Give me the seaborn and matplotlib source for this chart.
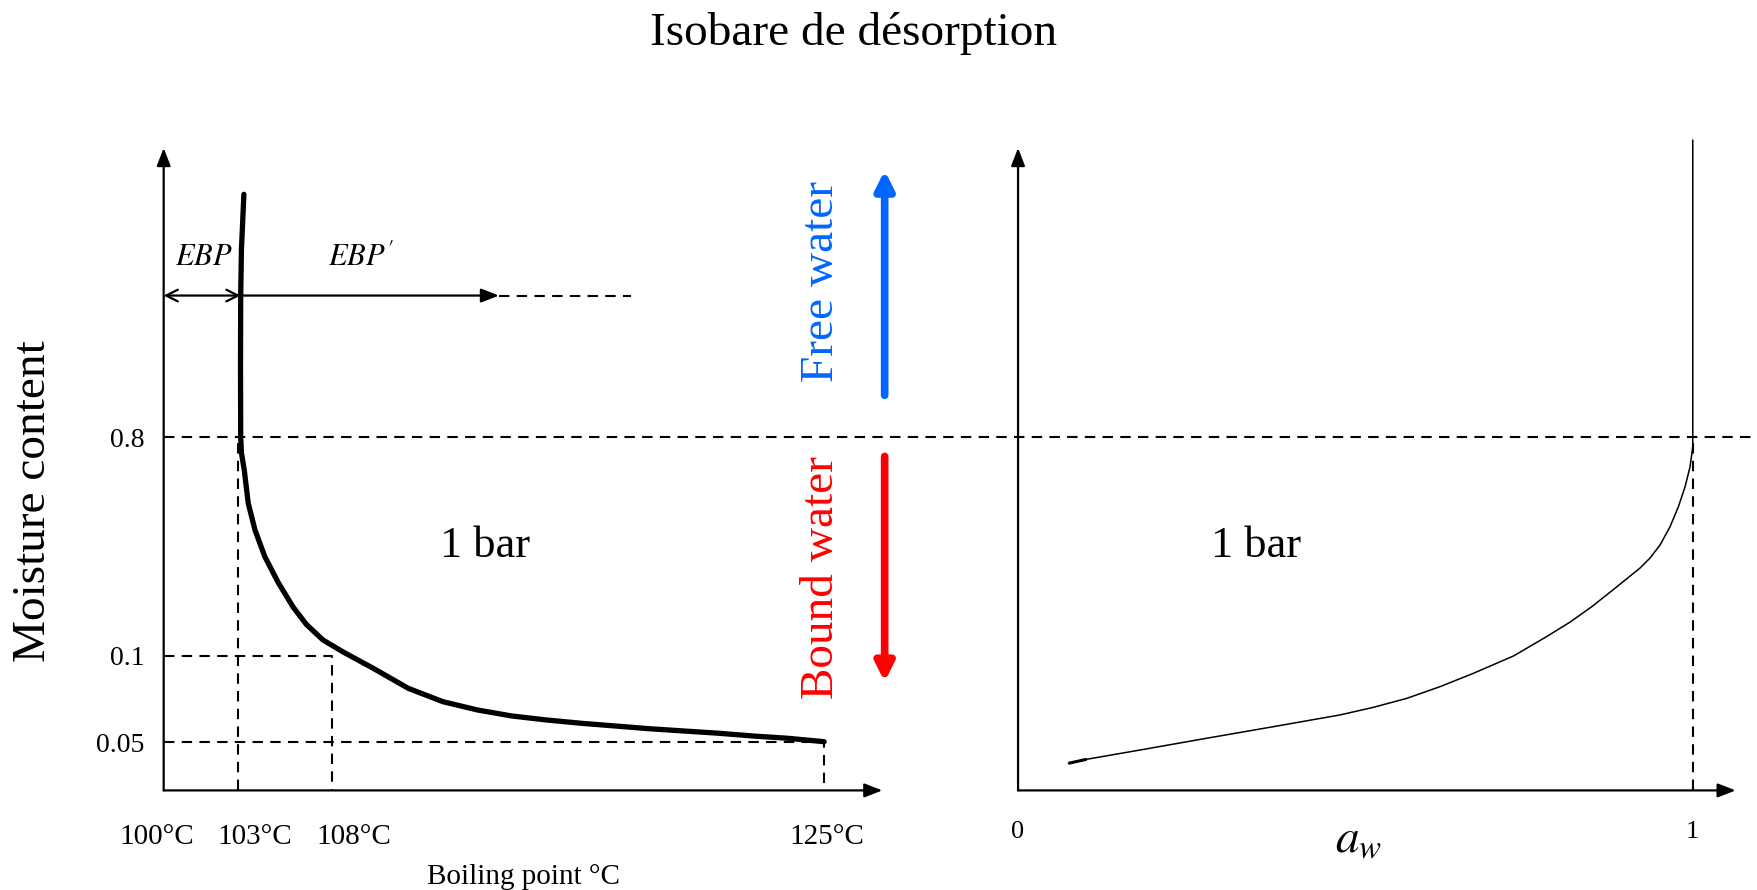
import numpy as np
import pandas as pd
import matplotlib.pyplot as plt
import seaborn as sns
from matplotlib import transforms

# schematic axis knots (value -> position along the drawn axis, px)
temp_knots = [100, 103, 108, 125]
temp_pos = [0, 74, 168.2, 660.4]
moist_knots = [0, 0.05, 0.1, 0.8, 1.0]
moist_pos = [0, 48.2, 134.5, 353.1, 642.4]

# left panel: boiling point vs moisture content
boil_temp = [103.33, 103.2, 103.16, 103.15, 103.16, 103.2, 103.35, 103.56, 103.92,
             104.44, 105.15, 105.94, 106.65, 107.53, 108.39, 109.43, 110.64, 111.83,
             113.02, 114.21, 115.40, 116.59, 117.78, 118.97, 120.16, 121.35, 122.54,
             123.73, 125.0]
boil_moist = [0.968, 0.93, 0.898, 0.85, 0.8, 0.75, 0.695, 0.589, 0.503,
              0.418, 0.335, 0.2566, 0.2005, 0.1509, 0.1125, 0.0928, 0.0812, 0.0735,
              0.0687, 0.0652, 0.0629, 0.0610, 0.0594, 0.0578, 0.0565, 0.0552, 0.0536,
              0.0523, 0.0503]
temp_ticks = [100, 103, 108, 125]
temp_labels = ['100°C', '103°C', '108°C', '125°C']
moist_ticks = [0.05, 0.1, 0.8]
moist_labels = ['0.05', '0.1', '0.8']

# right panel: water activity vs moisture content
aw = [0.0746, 0.1018, 0.1808, 0.2797, 0.3784, 0.4772, 0.5266, 0.5761, 0.6255,
      0.6748, 0.7345, 0.7811, 0.8177, 0.8507, 0.8841, 0.9219, 0.9367, 0.9515,
      0.9663, 0.9787, 0.9886, 0.9960, 1.0, 1.0, 1.0]
aw_moist = [0.0281, 0.0323, 0.0419, 0.0523, 0.0590, 0.0658, 0.0702, 0.0754, 0.0822,
            0.0899, 0.1000, 0.1589, 0.2076, 0.2582, 0.3155, 0.3815, 0.4135, 0.4551,
            0.5137, 0.5777, 0.6418, 0.7059, 0.7699, 0.8, 1.0055]


def make_scale(knots, pos):
    knots = np.asarray(knots, float)
    pos = np.asarray(pos, float)
    s0 = (pos[1] - pos[0]) / (knots[1] - knots[0])
    s1 = (pos[-1] - pos[-2]) / (knots[-1] - knots[-2])

    def fwd(v):
        v = np.asarray(v, float)
        out = np.interp(v, knots, pos)
        out = np.where(v < knots[0], pos[0] + (v - knots[0]) * s0, out)
        out = np.where(v > knots[-1], pos[-1] + (v - knots[-1]) * s1, out)
        return out

    def inv(p):
        p = np.asarray(p, float)
        out = np.interp(p, pos, knots)
        out = np.where(p < pos[0], knots[0] + (p - pos[0]) / s0, out)
        out = np.where(p > pos[-1], knots[-1] + (p - pos[-1]) / s1, out)
        return out

    return fwd, inv


sns.set_theme(style='white')
plt.rcParams['font.family'] = ['Liberation Serif', 'DejaVu Serif']
plt.rcParams['mathtext.fontset'] = 'stix'
plt.rcParams['text.color'] = 'black'
plt.rcParams['axes.labelcolor'] = 'black'
plt.rcParams['xtick.color'] = 'black'
plt.rcParams['ytick.color'] = 'black'

fig = plt.figure(figsize=(17.58, 8.90), dpi=100)
ax1 = fig.add_axes([0.0931, 0.1119, 0.4088, 0.7218])
ax2 = fig.add_axes([0.5791, 0.1119, 0.4082, 0.7218])

ax1.set_xscale('function', functions=make_scale(temp_knots, temp_pos))
for a in (ax1, ax2):
    a.set_yscale('function', functions=make_scale(moist_knots, moist_pos))
    a.set_ylim(0, 1.0)
    for s in a.spines.values():
        s.set_visible(False)
    a.set_facecolor('none')
    # axes with arrowheads
    arrow = dict(arrowstyle='-|>,head_length=0.9,head_width=0.35', color='black',
                 lw=1.6, shrinkA=0, shrinkB=0)
    a.annotate('', xy=(0, 1), xytext=(0, 0), xycoords='axes fraction', arrowprops=arrow)
    a.annotate('', xy=(1, 0), xytext=(0, 0), xycoords='axes fraction', arrowprops=arrow)
    a.tick_params(length=0)

ax1.set_xlim(100, 127.01)
ax2.set_xlim(0, 1.0636)

dash = dict(color='black', lw=1.5, ls=(0, (5, 3.5)), clip_on=False)

# left panel
df_boil = pd.DataFrame({'temp': boil_temp, 'moist': boil_moist})
sns.lineplot(data=df_boil, x='temp', y='moist', sort=False, estimator=None,
             color='black', lw=3.8, ax=ax1)
ax1.plot([103, 103], [0, 0.8], **dash)
ax1.plot([100, 108, 108], [0.1, 0.1, 0], **dash)
ax1.plot([100, 125, 125], [0.05, 0.05, 0], **dash)

ax1.set_yticks(moist_ticks, moist_labels, fontsize=20)
ax1.set_xticks(temp_ticks, temp_labels, fontsize=21)
ax1.tick_params(axis='y', pad=14)
ax1.tick_params(axis='x', pad=24)
shifts = [-0.07, 0.17, 0.22, 0.03]
for lab, dx in zip(ax1.get_xticklabels(), shifts):
    lab.set_transform(lab.get_transform() + transforms.ScaledTranslation(dx, 0, fig.dpi_scale_trans))
ax1.set_xlabel('Boiling point °C', fontsize=21, labelpad=10)
ax1.set_ylabel('')
ax1.text(-0.181, 0.4505, 'Moisture content', transform=ax1.transAxes, rotation=90,
         ha='center', va='center', fontsize=34)

# EBP arrows
y_ebp = 0.898
ax1.annotate('', xy=(103.15, y_ebp), xytext=(100, y_ebp),
             arrowprops=dict(arrowstyle='<->,head_length=0.7,head_width=0.35',
                             color='black', lw=1.6, shrinkA=0, shrinkB=0))
ax1.annotate('', xy=(113.77, y_ebp), xytext=(103.15, y_ebp),
             arrowprops=dict(arrowstyle='-|>,head_length=0.9,head_width=0.35',
                             color='black', lw=1.6, shrinkA=0, shrinkB=0))
ax1.plot([113.77, 118.34], [y_ebp, y_ebp], **dash)
ax1.text(101.63, 0.924, r'$EBP$', fontsize=22, ha='center', va='center')
ax1.text(109.0, 0.924, r"$EBP'$", fontsize=22, ha='center', va='center')
ax1.text(113.3, 0.452, '1 bar', fontsize=32, ha='center', va='center')

# free / bound water arrows
ax1.annotate('', xy=(127.09, 0.9845), xytext=(127.09, 0.829), annotation_clip=False,
             arrowprops=dict(arrowstyle='-|>,head_length=0.9,head_width=0.45',
                             color='#0066ff', lw=5.5, shrinkA=0, shrinkB=0))
ax1.annotate('', xy=(127.09, 0.085), xytext=(127.09, 0.739), annotation_clip=False,
             arrowprops=dict(arrowstyle='-|>,head_length=0.9,head_width=0.45',
                             color='#ff0000', lw=5.5, shrinkA=0, shrinkB=0))
fig.text(0.4675, 0.6838, 'Free water', color='#0066ff', fontsize=34, rotation=90,
         ha='center', va='center')
fig.text(0.4675, 0.3512, 'Bound water', color='#ff0000', fontsize=34, rotation=90,
         ha='center', va='center')

# dashed 0.8 line across the whole figure
trans = transforms.blended_transform_factory(fig.transFigure, ax1.transData)
fig.lines.append(plt.Line2D([0.0931, 1.0], [0.8, 0.8], transform=trans,
                            color='black', lw=1.5, ls=(0, (5, 3.5))))

# right panel
df_aw = pd.DataFrame({'aw': aw, 'moist': aw_moist})
sns.lineplot(data=df_aw, x='aw', y='moist', sort=False, estimator=None,
             color='black', lw=1.1, ax=ax2)
ax2.lines[-1].set_clip_on(False)
# small thick start of the curve
ax2.plot(aw[:2], aw_moist[:2], color='black', lw=2.2, solid_capstyle='butt')
ax2.plot([1.0, 1.0], [0, 0.8], **dash)
ax2.set_xticks([0, 1], ['0', '1'], fontsize=19)
ax2.set_yticks([])
ax2.tick_params(axis='x', pad=22)
ax2.set_xlabel('')
ax2.set_ylabel('')
ax2.text(0.475, -0.079, r'$a_w$', transform=ax2.transAxes, ha='center', va='center',
         fontsize=34)
ax2.text(0.353, 0.452, '1 bar', fontsize=32, ha='center', va='center')

fig.suptitle('Isobare de désorption', fontsize=34, x=0.4857, y=0.962, va='center')

fig.savefig('out.png', dpi=100, facecolor='white')
